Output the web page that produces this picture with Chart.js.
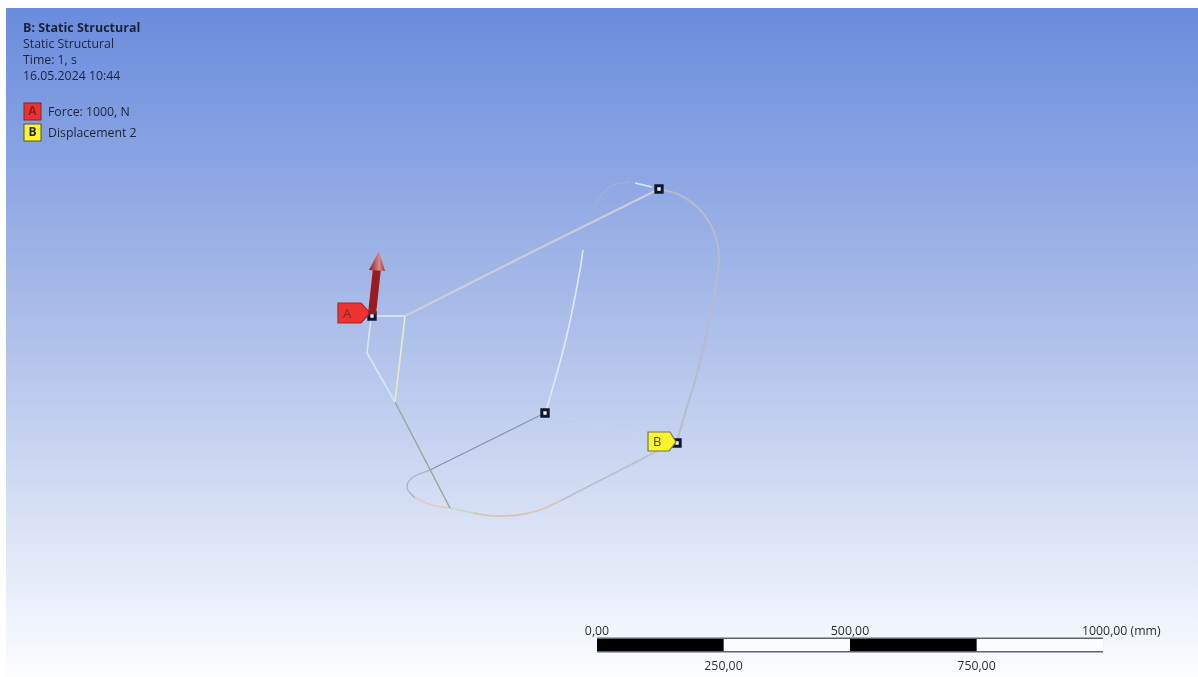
<!DOCTYPE html>
<html>
<head>
<meta charset="utf-8">
<title>B: Static Structural</title>
<script src="https://cdn.jsdelivr.net/npm/chart.js@4"></script>
<style>
  html, body { margin: 0; padding: 0; background: #fff; overflow: hidden; }
  canvas { display: block; filter: blur(0.45px); }
</style>
</head>
<body>
<canvas id="myChart" width="1198" height="677"></canvas>
<script>
// texts
const titleLines = ["Static Structural", "Time: 1, s", "16.05.2024 10:44"];
const titleBold = "B: Static Structural";
const legendKeys = ["A", "B"];
const legendNames = ["Force: 1000, N", "Displacement 2"];
const scaleTicks = [0, 250, 500, 750, 1000];
const scaleTickLabels = ["0,00", "250,00", "500,00", "750,00", "1000,00 (mm)"];

// wireframe edges
const rightArc = [[660,189],[680,195],[700,210],[714,232],[719,258],[715,290],[708,327],[698,370],[687,407],[677,441]];
const upperArc = [[630,182],[613,185],[600,197],[592,213],[585,233],[583,250]];
const upperArcTip = [[635,183],[652,187]];
const innerCurve = [[583,250],[580,270],[573,307],[565,343],[555,380],[546,411]];
const longDiagonal = [[405,316],[530,253],[659,189]];
const topStub = [[372,316],[405,316]];
const innerLeg = [[405,316],[395,402]];
const outerLeg = [[371,318],[367,353],[395,402]];
const lowerDiagonal = [[395,402],[450,508]];
const hubToLoop = [[545,413],[430,470]];
const loopLeft = [[430,470],[412,478],[407,488],[415,498]];
const loopPink = [[415,498],[432,505],[450,508]];
const loopGreen = [[450,508],[473,513]];
const bottomCurve = [[473,513],[495,516],[518,515],[540,510],[560,501]];
const bottomRight = [[560,501],[673,443]];
const hubToB = [[545,413],[677,443]];

// vertices with a marker
const markerPoints = [[372,316],[659,189],[545,413],[677,443]];

// force arrow and callouts
const arrowShaft = [[372,314],[377,268]];
const arrowHead = [[379,251],[385,271],[369,270]];
const tagA = [[338,303],[361,303],[370,313],[361,323],[338,323]];
const tagB = [[648,432],[670,432],[676,442],[669,451],[648,451]];

const edge = (points, color, width, curved) => ({
  data: points.map((p) => ({ x: p[0], y: p[1] })),
  showLine: true,
  borderColor: color,
  borderWidth: width,
  pointRadius: 0,
  tension: curved ? 0.4 : 0,
});

const scaleSegment = (from, to, color, width) => ({
  data: [{ x: from, y: 645 }, { x: to, y: 645 }],
  xAxisID: "mm",
  showLine: true,
  borderColor: color,
  borderWidth: width,
  borderCapStyle: "butt",
  pointRadius: 0,
});

// the first dataset is painted last
const datasets = [
  edge(arrowShaft, "#9a1c22", 8, false),
  {
    data: markerPoints.map((p) => ({ x: p[0], y: p[1] })),
    pointStyle: "rect",
    pointRadius: 4.5,
    pointBorderWidth: 3,
    pointBorderColor: "#10162c",
    pointBackgroundColor: "#f4f6fa",
  },
  scaleSegment(scaleTicks[0], scaleTicks[1], "#000", 12),
  scaleSegment(scaleTicks[2], scaleTicks[3], "#000", 12),
  scaleSegment(scaleTicks[1], scaleTicks[2], "#fbfcff", 12),
  scaleSegment(scaleTicks[3], scaleTicks[4], "#fbfcff", 12),
  scaleSegment(scaleTicks[0], scaleTicks[4], "#60636b", 15),
  edge(upperArcTip, "#c8f1fb", 1.6, false),
  edge(longDiagonal, "#cdcbdc", 2, false),
  edge(rightArc, "#b5bccb", 2, true),
  edge(upperArc, "#9db0d6", 1.4, true),
  edge(innerCurve, "#dfe8f7", 1.6, true),
  edge(topStub, "#d8f1f8", 1.6, false),
  edge(innerLeg, "#e6ecc8", 1.6, false),
  edge(outerLeg, "#d5e6f5", 1.6, false),
  edge(lowerDiagonal, "#8fad9f", 1.5, false),
  edge(hubToLoop, "#7f95af", 1.3, false),
  edge(loopLeft, "#a4b8d2", 1.5, true),
  edge(loopPink, "#e3cbc3", 1.6, true),
  edge(loopGreen, "#bfdcc6", 1.6, true),
  edge(bottomCurve, "#d6c6b8", 1.8, true),
  edge(bottomRight, "#b9bfc6", 1.6, false),
  edge(hubToB, "#c6d4ef", 1.1, false),
];

const markerIndex = 1;

const polygon = (chart, points) => {
  const ctx = chart.ctx;
  ctx.beginPath();
  points.forEach((p, i) => {
    const x = chart.scales.x.getPixelForValue(p[0]);
    const y = chart.scales.y.getPixelForValue(p[1]);
    if (i === 0) ctx.moveTo(x, y);
    else ctx.lineTo(x, y);
  });
  ctx.closePath();
};

const backdrop = {
  id: "backdrop",
  beforeDraw(chart) {
    const ctx = chart.ctx;
    const g = ctx.createLinearGradient(0, 8, 0, 677);
    g.addColorStop(0, "#6a8cdd");
    g.addColorStop(0.5, "#b0c1ea");
    g.addColorStop(1, "#fcfdff");
    ctx.fillStyle = g;
    ctx.fillRect(6, 8, chart.width - 6, chart.height - 8);
  },
};

const drawTag = (chart, points, fill, stroke, textColor, key) => {
  const ctx = chart.ctx;
  polygon(chart, points);
  ctx.fillStyle = fill;
  ctx.fill();
  ctx.lineWidth = 1.2;
  ctx.strokeStyle = stroke;
  ctx.stroke();
  ctx.fillStyle = textColor;
  ctx.font = "13px 'Open Sans'";
  ctx.textAlign = "left";
  ctx.textBaseline = "middle";
  ctx.fillText(key, points[0][0] + 5, (points[0][1] + points[4][1]) / 2 + 1);
};

const tags = {
  id: "tags",
  afterDatasetDraw(chart, args) {
    if (args.index !== markerIndex) return;
    drawTag(chart, tagA, "#ee3232", "#a02a2a", "#8a1f1f", legendKeys[0]);
    drawTag(chart, tagB, "#fbf52e", "#77774a", "#4c4a2a", legendKeys[1]);
  },
};

const overlay = {
  id: "overlay",
  afterDatasetsDraw(chart) {
    const ctx = chart.ctx;
    ctx.save();

    // arrow head
    polygon(chart, arrowHead);
    const g = ctx.createLinearGradient(369, 0, 385, 0);
    g.addColorStop(0, "#8e1a20");
    g.addColorStop(0.65, "#d98a8a");
    g.addColorStop(1, "#a83036");
    ctx.fillStyle = g;
    ctx.fill();

    // header block
    ctx.textAlign = "left";
    ctx.textBaseline = "middle";
    ctx.fillStyle = "#1b2238";
    ctx.font = "bold 12.5px 'Open Sans'";
    ctx.fillText(titleBold, 23, 28);
    ctx.font = "12.3px 'Open Sans'";
    ctx.fillStyle = "#20263a";
    titleLines.forEach((line, i) => ctx.fillText(line, 23, 44 + i * 16.2));

    // legend
    const colors = ["#ee3232", "#fbf52e"];
    const edges = ["#7a2a2a", "#55553a"];
    const keyColors = ["#8a1f1f", "#20263a"];
    legendNames.forEach((name, i) => {
      const top = 103 + i * 21;
      ctx.fillStyle = colors[i];
      ctx.fillRect(24, top, 17, 17);
      ctx.lineWidth = 1;
      ctx.strokeStyle = edges[i];
      ctx.strokeRect(24, top, 17, 17);
      ctx.fillStyle = keyColors[i];
      ctx.font = "bold 12px 'Open Sans'";
      ctx.textAlign = "center";
      ctx.fillText(legendKeys[i], 32.5, top + 9);
      ctx.textAlign = "left";
      ctx.fillStyle = "#20263a";
      ctx.font = "12.3px 'Open Sans'";
      ctx.fillText(name, 48, top + 9);
    });

    // scale bar labels, alternating above and below
    ctx.font = "12.3px 'Open Sans'";
    ctx.fillStyle = "#2a2d35";
    scaleTicks.forEach((tick, i) => {
      const px = chart.scales.mm.getPixelForValue(tick);
      const y = i % 2 === 0 ? 631 : 666;
      if (i === scaleTicks.length - 1) {
        ctx.textAlign = "left";
        ctx.fillText(scaleTickLabels[i], px - 21, y);
      } else {
        ctx.textAlign = "center";
        ctx.fillText(scaleTickLabels[i], px, y);
      }
    });
    ctx.restore();
  },
};

const chart = new Chart(document.getElementById("myChart").getContext("2d"), {
  type: "scatter",
  data: { datasets: datasets },
  plugins: [backdrop, tags, overlay],
  options: {
    responsive: false,
    animation: false,
    devicePixelRatio: 1,
    layout: { padding: 0, autoPadding: false },
    clip: false,
    plugins: { legend: { display: false }, title: { display: false }, tooltip: { enabled: false } },
    scales: {
      x: { type: "linear", display: false, min: 0, max: 1198 },
      y: { type: "linear", display: false, min: 0, max: 677, reverse: true },
      // scale bar in mm: 0 sits at pixel 597, 1000 at pixel 1103
      mm: { type: "linear", axis: "x", display: false, min: -1179.8, max: 1187.7 },
    },
  },
});
</script>
</body>
</html>
